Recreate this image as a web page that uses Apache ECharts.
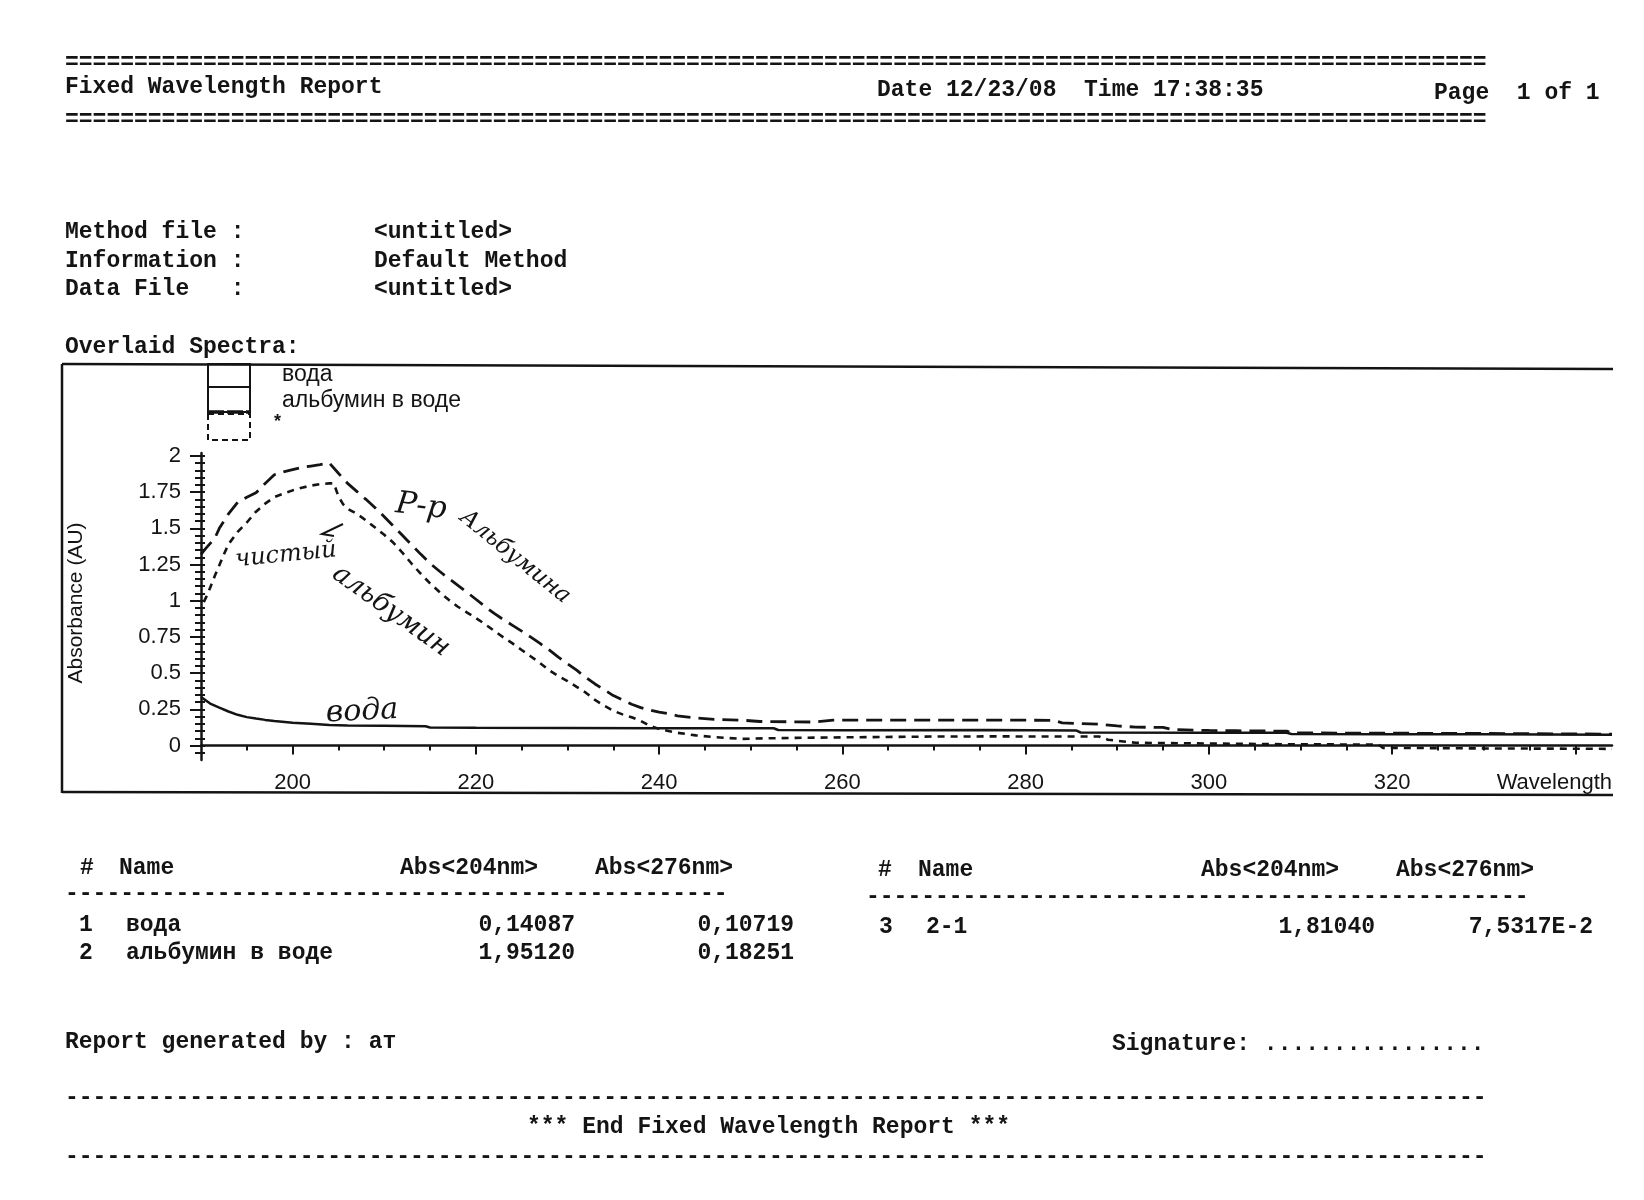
<!DOCTYPE html>
<html>
<head>
<meta charset="utf-8">
<script src="https://cdn.jsdelivr.net/npm/echarts@6/dist/echarts.min.js"></script>
<style>
  html, body { margin: 0; padding: 0; background: #fff; }
  #main { width: 1644px; height: 1200px; }
</style>
</head>
<body>
<div id="main"></div>
<script>
// spectra (wavelength nm -> absorbance AU)
var waterX = [190, 191, 192, 193, 194, 195, 196, 197, 198, 200, 202, 204, 206, 210, 214.5, 215, 220, 230, 240, 252.5, 253, 260, 276, 285.5, 286, 300, 308.5, 309, 320, 330, 344];
var waterY = [0.335, 0.29, 0.262, 0.235, 0.212, 0.196, 0.186, 0.177, 0.17, 0.158, 0.15, 0.141, 0.138, 0.136, 0.133, 0.124, 0.122, 0.121, 0.12, 0.119, 0.107, 0.106, 0.107, 0.104, 0.09, 0.089, 0.088, 0.08, 0.078, 0.077, 0.074];

var albuminX = [190, 190.5, 191.5, 192, 193, 194, 195, 196, 197, 198, 199, 200, 201, 202, 203, 204, 205, 206, 207, 208, 209, 210, 211, 212, 213, 214, 215, 216, 217, 218, 219, 220, 221, 222, 223, 224, 225, 226, 227, 228, 229, 230, 231, 232, 233, 234, 235, 236, 237, 238, 239, 240, 241, 242, 244, 246, 249, 251, 257, 259, 262, 270, 276, 283, 284, 288, 290, 292, 295, 296, 300, 303, 308.5, 309, 320, 330, 344];
var albuminY = [1.32, 1.36, 1.43, 1.5, 1.6, 1.68, 1.715, 1.745, 1.81, 1.87, 1.89, 1.905, 1.92, 1.93, 1.94, 1.951, 1.88, 1.81, 1.755, 1.7, 1.642, 1.58, 1.515, 1.45, 1.385, 1.32, 1.258, 1.205, 1.155, 1.108, 1.06, 1.01, 0.96, 0.912, 0.87, 0.83, 0.79, 0.748, 0.705, 0.66, 0.61, 0.565, 0.52, 0.47, 0.425, 0.385, 0.345, 0.315, 0.285, 0.262, 0.245, 0.23, 0.22, 0.205, 0.19, 0.18, 0.175, 0.166, 0.162, 0.176, 0.176, 0.175, 0.176, 0.174, 0.156, 0.148, 0.135, 0.127, 0.125, 0.11, 0.104, 0.102, 0.099, 0.087, 0.085, 0.083, 0.079];

var diffX = [190.3, 190.6, 191, 191.5, 192, 192.5, 193, 194, 195, 196, 197, 198, 199, 200, 201, 202, 203, 204, 204.5, 205, 205.5, 206, 207, 208, 209, 210, 211, 212, 213, 214, 215, 216, 217, 218, 219, 220, 221, 222, 223, 224, 225, 226, 227, 228, 229, 230, 231, 232, 233, 234, 235, 236, 237, 238, 239, 240, 241, 242, 244, 246, 249, 252, 255, 261, 270, 276, 288, 289, 292, 303, 310, 318.5, 319, 330, 344];
var diffY = [0.99, 1.03, 1.09, 1.17, 1.245, 1.32, 1.39, 1.475, 1.54, 1.615, 1.67, 1.715, 1.74, 1.762, 1.78, 1.795, 1.805, 1.81, 1.81, 1.72, 1.667, 1.635, 1.6, 1.555, 1.505, 1.455, 1.4, 1.33, 1.255, 1.185, 1.12, 1.062, 1.008, 0.96, 0.92, 0.88, 0.838, 0.792, 0.747, 0.705, 0.66, 0.615, 0.57, 0.52, 0.48, 0.445, 0.405, 0.365, 0.315, 0.275, 0.24, 0.215, 0.195, 0.17, 0.135, 0.115, 0.1, 0.088, 0.07, 0.058, 0.046, 0.05, 0.053, 0.057, 0.062, 0.063, 0.062, 0.04, 0.019, 0.012, 0.008, 0.007, -0.016, -0.02, -0.023];

var seriesNames = ['вода', 'альбумин в воде', '*'];

// axis ticks
var xTickLabels = [200, 220, 240, 260, 280, 300, 320];
var xMajorTicks = [200, 220, 240, 260, 280, 300, 320, 340];
var yTickLabels = [0, 0.25, 0.5, 0.75, 1, 1.25, 1.5, 1.75, 2];

// results table
var tableIds = ['1', '2', '3'];
var tableNames = ['вода', 'альбумин в воде', '2-1'];
var abs204 = ['0,14087', '1,95120', '1,81040'];
var abs276 = ['0,10719', '0,18251', '7,5317E-2'];

var xMinorTicks = [];
for (var v = 195; v <= 340; v += 5) xMinorTicks.push(v);
var yMinorTicks = [];
for (var k = -1; k <= 40; k++) yMinorTicks.push(Math.round(k * 5) / 100);

function pairs(xs, ys) {
  return xs.map(function (x, i) { return [x, ys[i]]; });
}

var INK = '#141414';
var MONO = 'bold 23px "Liberation Mono", "DejaVu Sans Mono", monospace';
var SANS = '"Liberation Sans", Arial, sans-serif';
var HAND = '"DejaVu Serif", serif';

function txt(x, y, s, opt) {
  opt = opt || {};
  return {
    type: 'text', x: x, y: y, rotation: opt.rot || 0, silent: true,
    style: {
      text: s, font: opt.font || MONO, fill: INK,
      align: opt.align || 'left', verticalAlign: 'middle'
    }
  };
}
function line(x1, y1, x2, y2, w, dash) {
  return {
    type: 'line', silent: true,
    shape: { x1: x1, y1: y1, x2: x2, y2: y2 },
    style: { stroke: INK, lineWidth: w || 2.5, lineDash: dash || null }
  };
}
function box(x, y, w, h, dash) {
  return {
    type: 'rect', silent: true,
    shape: { x: x, y: y, width: w, height: h },
    style: { fill: 'none', stroke: INK, lineWidth: 2, lineDash: dash || null }
  };
}

var g = [];
// header
g.push(txt(65, 63, '='.repeat(103)));
g.push(txt(65, 87, 'Fixed Wavelength Report'));
g.push(txt(877, 90, 'Date 12/23/08  Time 17:38:35'));
g.push(txt(1434, 93, 'Page  1 of 1'));
g.push(txt(65, 120, '='.repeat(103)));
g.push(txt(65, 232, 'Method file :'));
g.push(txt(374, 232, '<untitled>'));
g.push(txt(65, 261, 'Information :'));
g.push(txt(374, 261, 'Default Method'));
g.push(txt(65, 289, 'Data File   :'));
g.push(txt(374, 289, '<untitled>'));
g.push(txt(65, 347, 'Overlaid Spectra:'));

// chart frame
g.push(line(62, 364, 1613, 369));
g.push(line(62, 364, 62, 793));
g.push(line(62, 792, 1613, 795));

// legend swatches
g.push(box(208, 364, 42, 23));
g.push(box(208, 387, 42, 25));
g.push(line(208, 412, 250, 412, 3.5, [16, 3]));
g.push(box(208, 414, 42, 26, [6, 4]));
g.push(txt(282, 375, seriesNames[0], { font: '23px ' + SANS }));
g.push(txt(282, 401, seriesNames[1], { font: '23px ' + SANS }));
g.push(txt(274, 422, seriesNames[2], { font: 'bold 18px ' + SANS }));

// axis captions
g.push(txt(76, 603, 'Absorbance (AU)', { font: '21px ' + SANS, align: 'center', rot: Math.PI / 2 }));
g.push(txt(1612, 783, 'Wavelength', { font: '22px ' + SANS, align: 'right' }));

// handwritten notes
g.push(txt(421, 507, 'Р-р', { font: 'italic 31px ' + HAND, align: 'center', rot: -0.12 }));
g.push(txt(515, 557, 'Альбумина', { font: 'italic 23px ' + HAND, align: 'center', rot: -0.68 }));
g.push(txt(286, 555, 'чистый', { font: 'italic 24px ' + HAND, align: 'center', rot: 0.1 }));
g.push(txt(391, 611, 'альбумин', { font: 'italic 27px ' + HAND, align: 'center', rot: -0.62 }));
g.push(txt(362, 712, 'вода', { font: 'italic 30px ' + HAND, align: 'center', rot: 0.05 }));
g.push({
  type: 'polyline', silent: true,
  shape: { points: [[343, 524], [322, 534], [334, 536]] },
  style: { fill: 'none', stroke: INK, lineWidth: 2 }
});

// results table
g.push(txt(80, 868, '#'));
g.push(txt(119, 868, 'Name'));
g.push(txt(400, 868, 'Abs<204nm>'));
g.push(txt(595, 868, 'Abs<276nm>'));
g.push(txt(878, 870, '#'));
g.push(txt(918, 870, 'Name'));
g.push(txt(1201, 870, 'Abs<204nm>'));
g.push(txt(1396, 870, 'Abs<276nm>'));
g.push(txt(65, 894, '-'.repeat(48)));
g.push(txt(866, 897, '-'.repeat(48)));
[925, 953].forEach(function (y, i) {
  g.push(txt(79, y, tableIds[i]));
  g.push(txt(126, y, tableNames[i]));
  g.push(txt(575, y, abs204[i], { align: 'right' }));
  g.push(txt(794, y, abs276[i], { align: 'right' }));
});
g.push(txt(879, 927, tableIds[2]));
g.push(txt(926, 927, tableNames[2]));
g.push(txt(1375, 927, abs204[2], { align: 'right' }));
g.push(txt(1593, 927, abs276[2], { align: 'right' }));

// footer
g.push(txt(65, 1042, 'Report generated by : ат'));
g.push(txt(1112, 1044, 'Signature: ' + '.'.repeat(16)));
g.push(txt(65, 1098, '-'.repeat(103)));
g.push(txt(527, 1127, '*** End Fixed Wavelength Report ***'));
g.push(txt(65, 1157, '-'.repeat(103)));

var gridBox = { left: 201, top: 453, width: 1411, height: 307 };
var xRange = { min: 190, max: 344 };
var yRange = { min: -0.1, max: 2.02 };
var noSplit = { show: false };

var chart = echarts.init(document.getElementById('main'), null, { renderer: 'canvas' });
chart.setOption({
  backgroundColor: '#ffffff',
  animation: false,
  grid: [
    Object.assign({}, gridBox),
    Object.assign({}, gridBox),
    Object.assign({}, gridBox)
  ],
  xAxis: [
    Object.assign({ type: 'value', gridIndex: 0 }, xRange, {
      axisLine: { lineStyle: { color: INK, width: 2.5 } },
      axisTick: { customValues: xMajorTicks, length: 9, lineStyle: { color: INK, width: 2 } },
      axisLabel: { customValues: xTickLabels, color: INK, fontSize: 22, fontFamily: SANS, margin: 12 },
      splitLine: noSplit
    }),
    Object.assign({ type: 'value', gridIndex: 1 }, xRange, {
      axisLine: { show: false },
      axisTick: { customValues: xMinorTicks, length: 5, lineStyle: { color: INK, width: 2 } },
      axisLabel: { show: false },
      splitLine: noSplit
    }),
    Object.assign({ type: 'value', gridIndex: 2 }, xRange, {
      show: false
    })
  ],
  yAxis: [
    Object.assign({ type: 'value', gridIndex: 0 }, yRange, {
      axisLine: { show: true, lineStyle: { color: INK, width: 2.5 } },
      axisTick: { show: true, customValues: yTickLabels, length: 11, lineStyle: { color: INK, width: 2 } },
      axisLabel: { customValues: yTickLabels, color: INK, fontSize: 22, fontFamily: SANS, margin: 20 },
      splitLine: noSplit
    }),
    Object.assign({ type: 'value', gridIndex: 1 }, yRange, {
      axisLine: { show: false },
      axisTick: { show: true, customValues: yMinorTicks, length: 6, lineStyle: { color: INK, width: 2 } },
      axisLabel: { show: false },
      splitLine: noSplit
    }),
    Object.assign({ type: 'value', gridIndex: 2 }, yRange, {
      axisLine: { show: false },
      axisTick: { show: true, inside: true, customValues: yMinorTicks, length: 4, lineStyle: { color: INK, width: 2 } },
      axisLabel: { show: false },
      splitLine: noSplit
    })
  ],
  series: [
    {
      name: seriesNames[0], type: 'line', xAxisIndex: 0, yAxisIndex: 0,
      data: pairs(waterX, waterY), symbol: 'none', silent: true,
      lineStyle: { color: INK, width: 2.5, type: 'solid' }
    },
    {
      name: seriesNames[1], type: 'line', xAxisIndex: 0, yAxisIndex: 0,
      data: pairs(albuminX, albuminY), symbol: 'none', silent: true,
      lineStyle: { color: INK, width: 2.8, type: [16, 8] }
    },
    {
      name: seriesNames[2], type: 'line', xAxisIndex: 0, yAxisIndex: 0,
      data: pairs(diffX, diffY), symbol: 'none', silent: true,
      lineStyle: { color: INK, width: 2.6, type: [7, 6] }
    }
  ],
  graphic: g
});
</script>
</body>
</html>
